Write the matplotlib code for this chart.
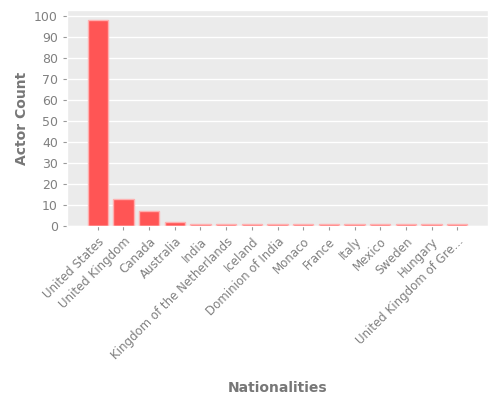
import matplotlib
matplotlib.use('Agg')
import matplotlib.pyplot as plt

nationalities = ['United States', 'United Kingdom', 'Canada', 'Australia', 'India',
                 'Kingdom of the Netherlands', 'Iceland', 'Dominion of India', 'Monaco',
                 'France', 'Italy', 'Mexico', 'Sweden', 'Hungary',
                 'United Kingdom of Gre...']
actor_counts = [98, 13, 7, 2, 1, 1, 1, 1, 1, 1, 1, 1, 1, 1, 1]

plt.style.use('ggplot')
fig, ax = plt.subplots(figsize=(5, 4), dpi=100)

x = range(len(nationalities))
ax.bar(x, actor_counts, width=0.8, color='#ff5555', edgecolor='#ffb0b0', linewidth=1)
ax.set_facecolor('#ebebeb')
ax.set_xticks(list(x))
ax.set_xticklabels(nationalities, rotation=45, ha='right', rotation_mode='anchor',
                   fontsize=8.5, color='#808080')
ax.set_xlim(-1.2, len(nationalities) + 0.2)
ax.set_ylim(0, 103)
ax.set_yticks(range(0, 101, 10))
ax.tick_params(axis='y', labelsize=9, labelcolor='#808080', color='#999999', length=3)
ax.tick_params(axis='x', color='#999999', length=3)
ax.grid(axis='x', visible=False)
ax.grid(axis='y', color='white', linewidth=1)
ax.set_axisbelow(True)

ax.set_ylabel('Actor Count', fontsize=10, fontweight='bold', color='#777777')
ax.set_xlabel('Nationalities', fontsize=10, fontweight='bold', color='#777777', labelpad=14)

fig.subplots_adjust(left=0.134, right=0.976, top=0.975, bottom=0.435)
fig.savefig('out.png', dpi=100)
